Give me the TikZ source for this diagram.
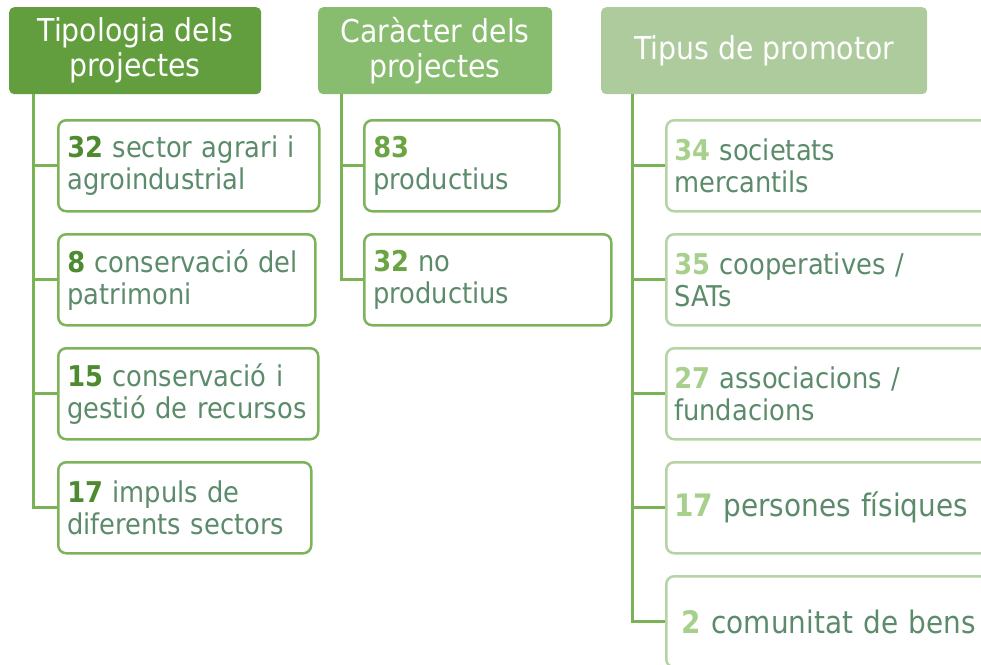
\documentclass[tikz,border=0pt]{standalone}
\usepackage{fontspec}
\setmainfont{DejaVu Sans}[FakeStretch=0.9]
\hyphenpenalty=10000

\definecolor{headA}{HTML}{629D3E}
\definecolor{headB}{HTML}{88BC6E}
\definecolor{headC}{HTML}{ADCB9C}
\definecolor{edgeA}{HTML}{7DB35A}
\definecolor{edgeC}{HTML}{B5D4A5}
\definecolor{trunk}{HTML}{7AB356}
\definecolor{numA}{HTML}{4E8A2F}
\definecolor{numB}{HTML}{6BA442}
\definecolor{numC}{HTML}{A8D08D}
\definecolor{bodytext}{HTML}{5B8B6B}

\newcommand{\nbr}[2]{\textbf{\textcolor{#1}{#2}}}

\begin{document}
\begin{tikzpicture}[
    x=1pt, y=-1pt,
    head/.style={rectangle, rounded corners=5pt, text=white, align=center, anchor=north west, minimum height=87pt, inner sep=0pt, font=\fontsize{31.5}{35}\selectfont},
    item/.style={rectangle, draw=edgeA, line width=2.5pt, rounded corners=8pt, anchor=north west, minimum height=91pt, inner xsep=9pt, inner ysep=0pt, align=left, text=bodytext, font=\fontsize{28.6}{32}\selectfont},
    big/.style={font=\fontsize{31}{34}\selectfont},
    link/.style={line width=3pt, trunk}
]
\useasboundingbox (0,0) rectangle (981,664);

% Headers
\node[head, fill=headA, minimum width=252pt] (tipo) at (9,7) {Tipologia dels\\projectes};
\node[head, fill=headB, minimum width=234pt] (carac) at (318,7) {Caràcter dels\\projectes};
\node[head, fill=headC, minimum width=326pt] (prom) at (601,7) {Tipus de promotor};

% Tipologia
\node[item, text width=243pt] (tipo1) at (57,119) {\nbr{numA}{32} sector agrari i\\agroindustrial};
\node[item, text width=239pt] (tipo2) at (57,233) {\nbr{numA}{8} conservació del\\patrimoni};
\node[item, text width=242pt] (tipo3) at (57,347) {\nbr{numA}{15} conservació i\\gestió de recursos};
\node[item, text width=235pt] (tipo4) at (57,461) {\nbr{numA}{17} impuls de\\diferents sectors};

% Caracter
\node[item, text width=177pt] (carac1) at (363,119) {\nbr{numB}{83}\\productius};
\node[item, text width=229pt] (carac2) at (363,233) {\nbr{numB}{32} no\\productius};

% Promotor
\node[item, draw=edgeC, text width=309pt, inner xsep=8pt] (prom1) at (665,119) {\nbr{numC}{34} societats\\mercantils};
\node[item, draw=edgeC, text width=309pt, inner xsep=8pt] (prom2) at (665,233) {\nbr{numC}{35} cooperatives /\\SATs};
\node[item, draw=edgeC, text width=309pt, inner xsep=8pt] (prom3) at (665,347) {\nbr{numC}{27} associacions /\\fundacions};
\node[item, big, draw=edgeC, text width=309pt, inner xsep=8pt] (prom4) at (665,461) {\nbr{numC}{17} persones físiques};
\node[item, big, draw=edgeC, text width=309pt, inner xsep=8pt, align=center] (prom5) at (665,575) {\nbr{numC}{2} comunitat de bens};

% Trunks
\coordinate (ta) at ([xshift=24pt]tipo.south west);
\coordinate (tb) at ([xshift=23pt]carac.south west);
\coordinate (tc) at ([xshift=31pt]prom.south west);

\foreach \n in {1,...,4} \draw[link] (ta) |- (tipo\n.west);
\foreach \n in {1,2} \draw[link] (tb) |- (carac\n.west);
\foreach \n in {1,...,5} \draw[link] (tc) |- (prom\n.west);

\end{tikzpicture}
\end{document}
